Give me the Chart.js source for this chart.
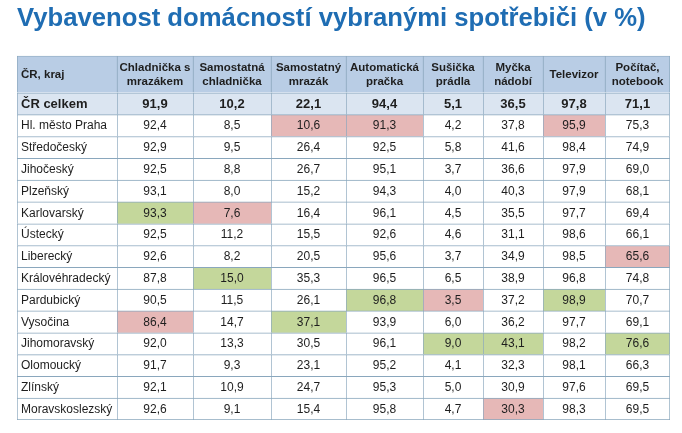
<!DOCTYPE html>
<html>
<head>
<meta charset="utf-8">
<script src="https://cdn.jsdelivr.net/npm/chart.js@4.4.0/dist/chart.umd.min.js"></script>
<style>
  html, body { margin: 0; padding: 0; background: #fff; }
  #wrap { width: 682px; height: 433px; }
</style>
</head>
<body>
<div id="wrap"><canvas id="equipmentTable"></canvas></div>
<script>
const titleText = "Vybavenost domácností vybranými spotřebiči (v %)";
const firstHeader = "ČR, kraj";
const columns = [
  ["Chladnička s", "mrazákem"],
  ["Samostatná", "chladnička"],
  ["Samostatný", "mrazák"],
  ["Automatická", "pračka"],
  ["Sušička", "prádla"],
  ["Myčka", "nádobí"],
  ["Televizor"],
  ["Počítač,", "notebook"]
];
const regions = [
  "ČR celkem", "Hl. město Praha", "Středočeský", "Jihočeský", "Plzeňský",
  "Karlovarský", "Ústecký", "Liberecký", "Královéhradecký", "Pardubický",
  "Vysočina", "Jihomoravský", "Olomoucký", "Zlínský", "Moravskoslezský"
];
const fridgeFreezer = [91.9, 92.4, 92.9, 92.5, 93.1, 93.3, 92.5, 92.6, 87.8, 90.5, 86.4, 92.0, 91.7, 92.1, 92.6];
const fridge        = [10.2, 8.5, 9.5, 8.8, 8.0, 7.6, 11.2, 8.2, 15.0, 11.5, 14.7, 13.3, 9.3, 10.9, 9.1];
const freezer       = [22.1, 10.6, 26.4, 26.7, 15.2, 16.4, 15.5, 20.5, 35.3, 26.1, 37.1, 30.5, 23.1, 24.7, 15.4];
const washer        = [94.4, 91.3, 92.5, 95.1, 94.3, 96.1, 92.6, 95.6, 96.5, 96.8, 93.9, 96.1, 95.2, 95.3, 95.8];
const dryer         = [5.1, 4.2, 5.8, 3.7, 4.0, 4.5, 4.6, 3.7, 6.5, 3.5, 6.0, 9.0, 4.1, 5.0, 4.7];
const dishwasher    = [36.5, 37.8, 41.6, 36.6, 40.3, 35.5, 31.1, 34.9, 38.9, 37.2, 36.2, 43.1, 32.3, 30.9, 30.3];
const television    = [97.8, 95.9, 98.4, 97.9, 97.9, 97.7, 98.6, 98.5, 96.8, 98.9, 97.7, 98.2, 98.1, 97.6, 98.3];
const computer      = [71.1, 75.3, 74.9, 69.0, 68.1, 69.4, 66.1, 65.6, 74.8, 70.7, 69.1, 76.6, 66.3, 69.5, 69.5];
const series = [fridgeFreezer, fridge, freezer, washer, dryer, dishwasher, television, computer];

// layout of the table
const colWidths = [100, 76, 78, 75, 77, 60, 60, 62, 65];
const edges = [0];
colWidths.forEach(w => edges.push(edges[edges.length - 1] + w));
const tableWidth = edges[edges.length - 1];

const FONT = "'Liberation Sans', Arial, sans-serif";
const BORDER = "#8aa7bd";
const HEADER_BG = "#b9cde5";
const TOTAL_BG = "#dbe5f1";
const LOW_BG = "#e6b8b7";
const HIGH_BG = "#c4d79b";

const fmt = v => v.toFixed(1).replace(".", ",");
const lastCol = colWidths.length - 1;

function cellBorder(col, isLastRow) {
  return { top: 1, left: 1, right: col === lastCol ? 1 : 0, bottom: isLastRow ? 1 : 0 };
}

const datasets = [];

// header row
datasets.push({
  label: "header",
  yAxisID: "yh",
  data: colWidths.map((w, c) => ({ y: "hdr", x: [edges[c], edges[c + 1]] })),
  backgroundColor: HEADER_BG,
  borderWidth: ctx => cellBorder(ctx.dataIndex, false),
  texts: [[firstHeader]].concat(columns),
  header: true
});

// region names column
datasets.push({
  label: firstHeader,
  yAxisID: "y",
  data: regions.map(r => ({ y: r, x: [edges[0], edges[1]] })),
  backgroundColor: ctx => ctx.dataIndex === 0 ? TOTAL_BG : "#ffffff",
  borderWidth: ctx => cellBorder(0, ctx.dataIndex === regions.length - 1),
  texts: regions.map(r => [r]),
  leftAlign: true
});

// value columns
series.forEach((vals, s) => {
  const regional = vals.slice(1);
  const lo = Math.min(...regional);
  const hi = Math.max(...regional);
  datasets.push({
    label: columns[s].join(" "),
    yAxisID: "y",
    data: regions.map((r, i) => ({ y: r, x: [edges[s + 1], edges[s + 2]] })),
    backgroundColor: ctx => {
      const i = ctx.dataIndex;
      if (i === 0) return TOTAL_BG;
      if (vals[i] === lo) return LOW_BG;
      if (vals[i] === hi) return HIGH_BG;
      return "#ffffff";
    },
    borderWidth: ctx => cellBorder(s + 1, ctx.dataIndex === regions.length - 1),
    texts: vals.map(v => [fmt(v)])
  });
});

const cellText = {
  id: "cellText",
  afterDatasetsDraw(chart) {
    const ctx = chart.ctx;
    ctx.save();
    ctx.fillStyle = "#1e1e1e";
    ctx.textBaseline = "middle";
    chart.data.datasets.forEach((ds, di) => {
      const meta = chart.getDatasetMeta(di);
      meta.data.forEach((bar, i) => {
        const lines = ds.texts[i];
        const left = Math.min(bar.x, bar.base);
        const right = Math.max(bar.x, bar.base);
        let font;
        if (ds.header) font = "bold 11.5px ";
        else if (i === 0) font = "bold 13px ";
        else font = "12px ";
        ctx.font = font + FONT;
        const lineGap = 14.5;
        const y0 = bar.y - (lines.length - 1) * lineGap / 2 + 0.5;
        let x;
        if (ds.leftAlign || (ds.header && i === 0)) {
          ctx.textAlign = "left";
          x = left + 4;
        } else {
          ctx.textAlign = "center";
          x = (left + right) / 2;
        }
        lines.forEach((t, k) => ctx.fillText(t, x, y0 + k * lineGap));
      });
    });
    ctx.restore();
  }
};

new Chart(document.getElementById("equipmentTable"), {
  type: "bar",
  data: { datasets },
  plugins: [cellText],
  options: {
    indexAxis: "y",
    responsive: true,
    maintainAspectRatio: false,
    animation: false,
    events: [],
    layout: { padding: { left: 17, right: 12, top: 0, bottom: 13 } },
    datasets: {
      bar: {
        grouped: false,
        categoryPercentage: 1,
        barPercentage: 1,
        borderSkipped: false,
        borderColor: BORDER
      }
    },
    scales: {
      x: { type: "linear", min: 0, max: tableWidth, display: false },
      y: { type: "category", labels: regions, position: "left", stack: "table", stackWeight: 327, offset: true, display: false },
      yh: { type: "category", labels: ["hdr"], position: "left", stack: "table", stackWeight: 37, offset: true, display: false }
    },
    plugins: {
      legend: { display: false },
      tooltip: { enabled: false },
      title: {
        display: true,
        text: titleText,
        align: "start",
        color: "#1f6db3",
        font: { family: FONT, size: 25.7, weight: "bold" },
        padding: { top: 3.5, bottom: 21.5 }
      }
    }
  }
});
</script>
</body>
</html>
